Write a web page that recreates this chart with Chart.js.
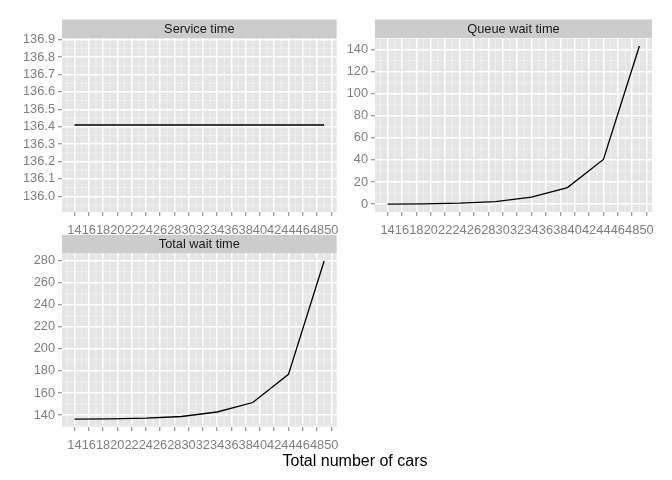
<!DOCTYPE html>
<html>
<head>
<meta charset="utf-8">
<script src="https://cdn.jsdelivr.net/npm/chart.js@4"></script>
<style>
    body { margin: 0; background: #ffffff; }
    #page { position: relative; width: 672px; height: 480px; overflow: hidden; }
    .panel { position: absolute; }
    #xTitle {
        position: absolute; left: 255px; width: 200px; top: 451px;
        text-align: center; font: 16px "Liberation Sans", Arial, sans-serif;
        line-height: 19px; color: #000;
    }
</style>
</head>
<body>
<div id="page">
    <div class="panel" style="left:0px;top:0px;width:345px;height:240px"><canvas id="serviceChart"></canvas></div>
    <div class="panel" style="left:345px;top:0px;width:327px;height:240px"><canvas id="queueChart"></canvas></div>
    <div class="panel" style="left:0px;top:235px;width:345px;height:220px"><canvas id="totalChart"></canvas></div>
    <div id="xTitle">Total number of cars</div>
</div>
<script>
// Data
const carCounts = [14, 19, 24, 29, 34, 39, 44, 49];
const serviceTime = [136.41, 136.41, 136.41, 136.41, 136.41, 136.41, 136.41, 136.41];
const queueWait = [0, 0.2, 0.8, 2.3, 6.4, 15, 40.5, 143.3];
const totalWait = [136.4, 136.6, 137.2, 138.7, 142.8, 151.4, 176.9, 279.7];

// Tick labels
const xTicks = [14, 16, 18, 20, 22, 24, 26, 28, 30, 32, 34, 36, 38, 40, 42, 44, 46, 48, 50];
const serviceTicks = [136.0, 136.1, 136.2, 136.3, 136.4, 136.5, 136.6, 136.7, 136.8, 136.9];
const queueTicks = [0, 20, 40, 60, 80, 100, 120, 140];
const totalTicks = [140, 160, 180, 200, 220, 240, 260, 280];

const FONT = '"Liberation Sans", Arial, sans-serif';
const GREY = '#7f7f7f';

// minor gridline values halfway between major ticks (and one step past the ends, if inside)
function minorValues(ticks, scale) {
    const out = [];
    const step = ticks[1] - ticks[0];
    const first = ticks[0] - step / 2;
    if (first >= scale.min) out.push(first);
    for (let i = 0; i < ticks.length - 1; i++) out.push((ticks[i] + ticks[i + 1]) / 2);
    const last = ticks[ticks.length - 1] + step / 2;
    if (last <= scale.max) out.push(last);
    return out;
}

const panelDecor = {
    id: 'panelDecor',
    beforeDraw(chart, args, opts) {
        const { ctx, chartArea: a, scales } = chart;
        ctx.save();
        ctx.fillStyle = '#e5e5e5';
        ctx.fillRect(a.left, a.top, a.right - a.left, a.bottom - a.top);

        // facet strip
        ctx.fillStyle = '#cccccc';
        ctx.fillRect(a.left, a.top - opts.stripHeight, a.right - a.left, opts.stripHeight);
        ctx.fillStyle = '#1a1a1a';
        ctx.font = '12.8px ' + FONT;
        ctx.textAlign = 'center';
        ctx.textBaseline = 'middle';
        ctx.fillText(opts.title, (a.left + a.right) / 2, a.top - opts.stripHeight / 2 + 0.5);

        // minor grid
        ctx.strokeStyle = '#f2f2f2';
        ctx.lineWidth = 0.8;
        ctx.beginPath();
        minorValues(xTicks, scales.x).forEach(v => {
            const px = scales.x.getPixelForValue(v);
            ctx.moveTo(px, a.top);
            ctx.lineTo(px, a.bottom);
        });
        minorValues(opts.yTicks, scales.y).forEach(v => {
            const py = scales.y.getPixelForValue(v);
            ctx.moveTo(a.left, py);
            ctx.lineTo(a.right, py);
        });
        ctx.stroke();
        ctx.restore();
    }
};

function makePanel(canvasId, title, values, yTicks, yMin, yMax, yWidth, padRight, padTop, xHeight, decimals) {
    const ctx = document.getElementById(canvasId);
    return new Chart(ctx, {
        type: 'line',
        data: {
            datasets: [{
                data: carCounts.map((x, i) => ({ x: x, y: values[i] })),
                borderColor: '#000000',
                borderWidth: 1.3,
                pointRadius: 0,
                fill: false,
                tension: 0
            }]
        },
        plugins: [panelDecor],
        options: {
            responsive: true,
            maintainAspectRatio: false,
            animation: false,
            layout: { padding: { left: 0, right: padRight, top: padTop, bottom: 0 } },
            plugins: {
                legend: { display: false },
                tooltip: { enabled: false },
                panelDecor: { title: title, stripHeight: 18.5, yTicks: yTicks }
            },
            scales: {
                x: {
                    type: 'linear',
                    min: 12.25,
                    max: 50.75,
                    afterBuildTicks: scale => { scale.ticks = xTicks.map(v => ({ value: v })); },
                    afterFit: scale => { scale.height = xHeight; },
                    border: { display: false },
                    grid: { color: '#ffffff', lineWidth: 1.5, tickColor: GREY, tickLength: 4, tickWidth: 1 },
                    ticks: {
                        color: GREY,
                        font: { family: FONT, size: 12.8 },
                        padding: 6.5,
                        maxRotation: 0,
                        autoSkip: false,
                        callback: v => String(v)
                    }
                },
                y: {
                    min: yMin,
                    max: yMax,
                    afterBuildTicks: scale => { scale.ticks = yTicks.map(v => ({ value: v })); },
                    afterFit: scale => { scale.width = yWidth; },
                    border: { display: false },
                    grid: { color: '#ffffff', lineWidth: 1.5, tickColor: GREY, tickLength: 4, tickWidth: 1 },
                    ticks: {
                        color: GREY,
                        font: { family: FONT, size: 12.8 },
                        padding: 3,
                        autoSkip: false,
                        callback: v => Number(v).toFixed(decimals)
                    }
                }
            }
        }
    });
}

document.addEventListener('DOMContentLoaded', function() {
    makePanel('serviceChart', 'Service time', serviceTime, serviceTicks, 135.91, 136.91, 62, 6, 38, 28, 1);
    makePanel('queueChart', 'Queue wait time', queueWait, queueTicks, -7.17, 150.5, 30, 20, 38, 28, 0);
    makePanel('totalChart', 'Total wait time', totalWait, totalTicks, 129.2, 286.9, 62, 6, 18, 28, 0);
});
</script>
</body>
</html>
